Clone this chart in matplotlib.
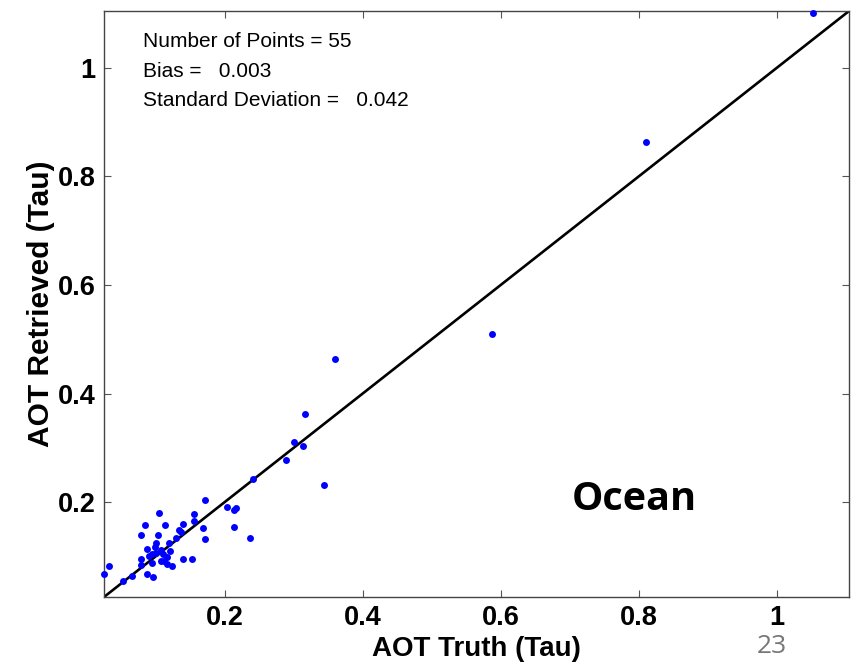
import matplotlib
matplotlib.use("Agg")
import matplotlib.pyplot as plt
import numpy as np

# AOT truth vs retrieved
aot_truth = [1.052, 0.811, 0.588, 0.360, 0.316, 0.300, 0.313, 0.289, 0.241, 0.344,
             0.172, 0.203, 0.213, 0.217, 0.213, 0.236, 0.104, 0.155, 0.085, 0.114,
             0.140, 0.133, 0.156, 0.168, 0.171, 0.079, 0.103, 0.101, 0.129, 0.119,
             0.087, 0.079, 0.094, 0.101, 0.111, 0.116, 0.108, 0.116, 0.124, 0.139,
             0.152, 0.094, 0.079, 0.088, 0.096, 0.065, 0.052, 0.032, 0.025, 0.137,
             0.099, 0.107, 0.090, 0.121, 0.112]
aot_retrieved = [1.101, 0.864, 0.510, 0.464, 0.363, 0.310, 0.303, 0.277, 0.242, 0.231,
                 0.204, 0.191, 0.185, 0.189, 0.154, 0.134, 0.180, 0.178, 0.158, 0.158,
                 0.160, 0.149, 0.165, 0.152, 0.132, 0.140, 0.140, 0.125, 0.134, 0.125,
                 0.114, 0.095, 0.105, 0.106, 0.105, 0.099, 0.092, 0.086, 0.083, 0.095,
                 0.095, 0.088, 0.084, 0.068, 0.062, 0.064, 0.055, 0.083, 0.068, 0.145,
                 0.118, 0.112, 0.100, 0.110, 0.092]

n_points = 55
bias = 0.003
std_dev = 0.042

xticks = [0.2, 0.4, 0.6, 0.8, 1.0]
tick_labels = ["0.2", "0.4", "0.6", "0.8", "1"]

lo = 0.025
hi = 1.105

plt.rcParams['font.family'] = ['Liberation Sans', 'DejaVu Sans']

fig = plt.figure(figsize=(8.56, 6.66), dpi=100)
ax = fig.add_axes([0.1215, 0.1036, 0.8705, 0.88])

ax.plot([lo, hi], [lo, hi], '-k', linewidth=1.9, zorder=2)
ax.plot(aot_truth, aot_retrieved, 'o', color='#0000ff', markersize=5,
        markeredgewidth=0, zorder=3, clip_on=False)

ax.set_xlim(lo, hi)
ax.set_ylim(lo, hi)
ax.set_xticks(xticks)
ax.set_xticklabels(tick_labels, fontsize=19.5, fontweight='bold')
ax.set_yticks(xticks)
ax.set_yticklabels(tick_labels, fontsize=19.5, fontweight='bold')
ax.tick_params(direction='in', length=5, width=0.8, color='#555555',
               top=True, right=True, pad=6)
for s in ax.spines.values():
    s.set_color('#444444')
    s.set_linewidth(1.0)

ax.set_xlabel("AOT Truth (Tau)", fontsize=20, fontweight='bold', labelpad=3)
ax.set_ylabel("AOT Retrieved (Tau)", fontsize=21.5, fontweight='bold', labelpad=2)

stats = ["Number of Points = %d" % n_points,
         "Bias =   %.3f" % bias,
         "Standard Deviation =   %.3f" % std_dev]
for i, t in enumerate(stats):
    ax.text(0.052, 0.947 - i * 0.05, t, transform=ax.transAxes,
            fontsize=15, va='center', ha='left', color='#000000')

fig.text(0.668, 0.250, "Ocean", fontsize=28.5, fontweight='bold',
         family=['Open Sans', 'DejaVu Sans'], ha='left', va='center')
fig.text(0.884, 0.030, "23", fontsize=19, color='#777777',
         family=['Open Sans', 'DejaVu Sans'], ha='left', va='center')

fig.savefig("out.png", dpi=100)
